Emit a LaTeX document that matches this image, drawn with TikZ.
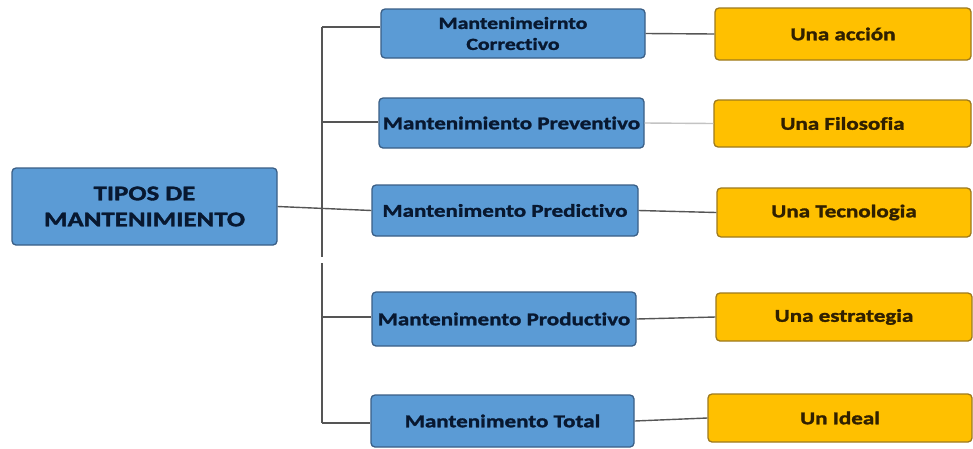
\documentclass[tikz,border=0pt]{standalone}
\usepackage{fontspec}
\setmainfont{Carlito}[FakeStretch=1.28,FakeBold=1.6,Ligatures=NoCommon]
\definecolor{bluefill}{HTML}{5B9BD5}
\definecolor{blueline}{HTML}{3A5F86}
\definecolor{bluetext}{HTML}{081830}
\definecolor{yelfill}{HTML}{FFC000}
\definecolor{yelline}{HTML}{9E7A1E}
\definecolor{yeltext}{HTML}{302000}
\definecolor{conn}{HTML}{555555}
\begin{document}
\begin{tikzpicture}[x=1pt,y=-1pt,
  bluebox/.style={draw=blueline,fill=bluefill,line width=1.3pt,rounded corners=4pt,
    text=bluetext,font=\bfseries\fontsize{18}{21}\selectfont,align=center,inner sep=0pt},
  yelbox/.style={draw=yelline,fill=yelfill,line width=1.3pt,rounded corners=4pt,
    text=yeltext,font=\bfseries\fontsize{18}{21}\selectfont,align=center,inner sep=0pt},
  link/.style={draw=conn,line width=1.4pt}]
\useasboundingbox (0,0) rectangle (973,448);
\fill[white] (0,0) rectangle (973,448);
% root
\node[bluebox,minimum width=265pt,minimum height=77pt,font=\bfseries\fontsize{21}{26}\selectfont] (root) at (144.5,206.5) {TIPOS DE\\MANTENIMIENTO};
% level 1
\node[bluebox,minimum width=264pt,minimum height=49pt,font=\bfseries\fontsize{17}{21}\selectfont] (b1) at (513,33.5) {Mantenimeirnto\\Correctivo};
\node[bluebox,minimum width=265pt,minimum height=50pt] (b2) at (511.5,123) {Mantenimiento Preventivo};
\node[bluebox,minimum width=266pt,minimum height=51pt] (b3) at (505,210.5) {Mantenimento Predictivo};
\node[bluebox,minimum width=264pt,minimum height=54pt] (b4) at (504,319) {Mantenimento Productivo};
\node[bluebox,minimum width=263pt,minimum height=52pt] (b5) at (502.5,421) {Mantenimento Total};
% level 2
\node[yelbox,minimum width=256pt,minimum height=52pt] (y1) at (843,34) {Una acción};
\node[yelbox,minimum width=257pt,minimum height=47pt] (y2) at (842.5,123.5) {Una Filosofia};
\node[yelbox,minimum width=254pt,minimum height=49pt] (y3) at (844,212.5) {Una Tecnologia};
\node[yelbox,minimum width=256pt,minimum height=48pt] (y4) at (844,317) {Una estrategia};
\node[yelbox,minimum width=264pt,minimum height=48pt] (y5) at (840,418) {Un Ideal};
% trunk
\coordinate (t1) at (322,27);
\coordinate (t2) at (322,122);
\coordinate (tg1) at (322,257);
\coordinate (tg2) at (322,263);
\coordinate (t4) at (322,317);
\coordinate (t5) at (322,423);
\draw[link] (t1) -- (tg1);
\draw[link] (tg2) -- (t5);
\draw[link] (t1) -- (t1 -| b1.west);
\draw[link] (t2) -- (t2 -| b2.west);
\draw[link] (root.east) -- (b3.west);
\draw[link] (t4) -- (t4 -| b4.west);
\draw[link] (t5) -- (t5 -| b5.west);
% right links
\draw[link] (b1.east) -- (y1.west);
\draw[link,draw=conn!35] (b2.east) -- (y2.west);
\draw[link] (b3.east) -- (y3.west);
\draw[link] (b4.east) -- (y4.west);
\draw[link] (b5.east) -- (y5.west);
\end{tikzpicture}
\end{document}
